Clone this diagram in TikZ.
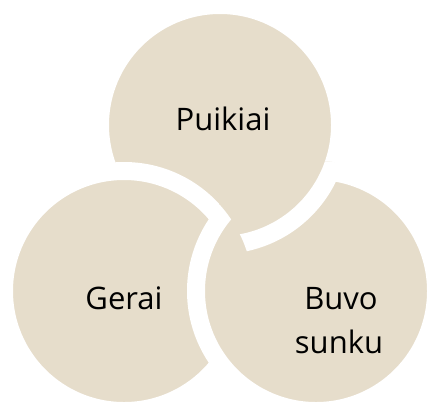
\documentclass[tikz,border=0pt]{standalone}
\usepackage{fontspec}
\setmainfont{Open Sans}
\usepackage{tikz}
\definecolor{sand}{HTML}{E6DDCB}
\tikzset{
	ring/.style={circle, fill=sand, draw=white, line width=18pt, minimum size=240pt, inner sep=0pt},
	word/.style={anchor=base, text=black, font=\fontsize{31}{44}\selectfont, align=center}
}

\begin{document}
\begin{tikzpicture}[x=1pt, y=-1pt]
		\useasboundingbox (0,0) rectangle (427,405);
		% the three discs
		\node[ring] (top) at (220,125) {};
		\node[ring] (left) at (124,291) {};
		\node[ring] (right) at (316,291) {};
		% top disc goes back over the right one, but not over the left one
		\begin{scope}[even odd rule]
			\clip (right.center) circle (130pt);
			\clip (0,0) rectangle (427,405) (left.center) circle (129pt);
			\draw[white, line width=18pt, fill=sand] (top.center) circle (120pt);
		\end{scope}
		% labels
		\node[word] (puikiai) at (223,130) {Puikiai};
		\node[word] (gerai) at (124,309) {Gerai};
		\node[word] (buvo) at (341,309) {Buvo};
		\node[word] (sunku) at (339,353) {sunku};
	\end{tikzpicture}
\end{document}
